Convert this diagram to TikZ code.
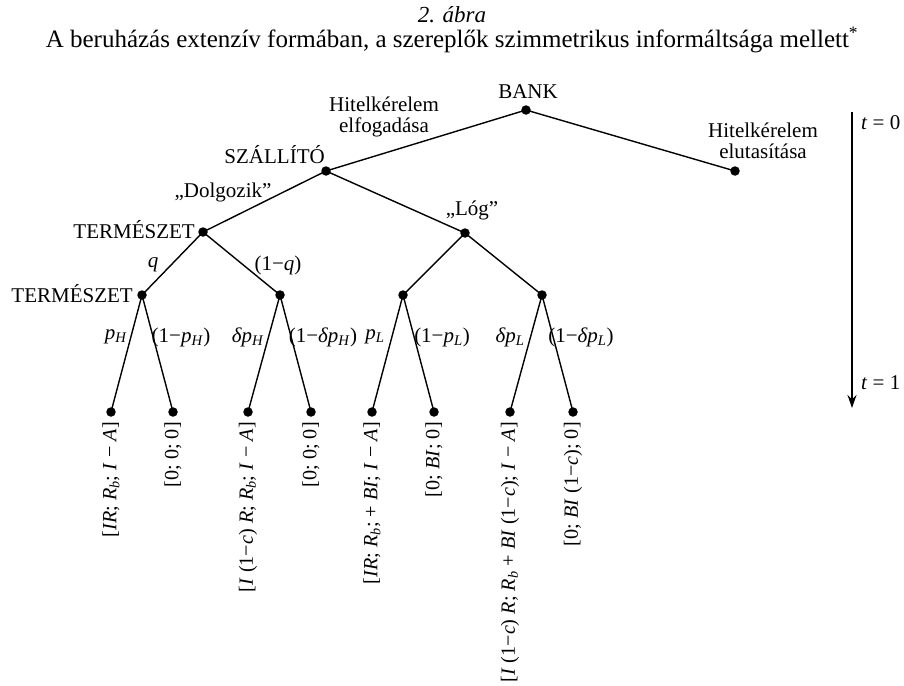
\documentclass[tikz,border=0pt]{standalone}
\usepackage{fontspec}
\setmainfont{Liberation Serif}
\usetikzlibrary{arrows.meta}
\newcommand{\iv}[1]{\textit{#1}}
\newcommand{\lsb}[1]{\textsubscript{\textit{#1}}}
\begin{document}
\begin{tikzpicture}[x=1pt,y=-1pt,
  dot/.style={circle,fill=black,inner sep=0pt,minimum size=9.5pt},
  edge/.style={line width=1.4pt},
  lbl/.style={font=\fontsize{21}{21}\selectfont, inner sep=0pt, align=center},
  leaf/.style={lbl, font=\fontsize{20.2}{21}\selectfont, rotate=90, anchor=east}]
\useasboundingbox (0,0) rectangle (904,685);
% titles
\node[lbl,font=\fontsize{23}{23}\selectfont] (title1) at (452,15) {\iv{2. ábra}};
\node[lbl,font=\fontsize{25}{25}\selectfont] (title2) at (452,40) {A beruházás extenzív formában, a szereplők szimmetrikus informáltsága mellett\textsuperscript{*}};
% tree nodes
\node[dot] (bank) at (526,110) {};
\node[dot] (rej) at (735,171) {};
\node[dot] (szal) at (326,171) {};
\node[dot] (dolg) at (203,232) {};
\node[dot] (log) at (465,233) {};
\node[dot] (n1) at (142,295) {};
\node[dot] (n2) at (280,295) {};
\node[dot] (n3) at (403,295) {};
\node[dot] (n4) at (542,295) {};
\node[dot] (l1) at (111,412) {};
\node[dot] (l2) at (173,412) {};
\node[dot] (l3) at (248,412) {};
\node[dot] (l4) at (311,412) {};
\node[dot] (l5) at (372,412) {};
\node[dot] (l6) at (434,412) {};
\node[dot] (l7) at (510,412) {};
\node[dot] (l8) at (573,412) {};
% edges
\draw[edge] (bank.center) -- (szal.center);
\draw[edge] (bank.center) -- (rej.center);
\draw[edge] (szal.center) -- (dolg.center);
\draw[edge] (szal.center) -- (log.center);
\draw[edge] (dolg.center) -- (n1.center);
\draw[edge] (dolg.center) -- (n2.center);
\draw[edge] (log.center) -- (n3.center);
\draw[edge] (log.center) -- (n4.center);
\draw[edge] (n1.center) -- (l1.center);
\draw[edge] (n1.center) -- (l2.center);
\draw[edge] (n2.center) -- (l3.center);
\draw[edge] (n2.center) -- (l4.center);
\draw[edge] (n3.center) -- (l5.center);
\draw[edge] (n3.center) -- (l6.center);
\draw[edge] (n4.center) -- (l7.center);
\draw[edge] (n4.center) -- (l8.center);
% player labels
\node[lbl] (tbank) at (528,92) {BANK};
\node[lbl,anchor=east] (tszal) at (325,155) {SZÁLLÍTÓ};
\node[lbl,anchor=east] (tterm1) at (195,230) {TERMÉSZET};
\node[lbl,anchor=east] (tterm2) at (133,294) {TERMÉSZET};
% action labels
\node[lbl] (tacc) at (384,117) {Hitelkérelem\\elfogadása};
\node[lbl] (trej) at (763,141) {Hitelkérelem\\elutasítása};
\node[lbl] (tdolg) at (223,192) {„Dolgozik”};
\node[lbl] (tlog) at (472,210) {„Lóg”};
\node[lbl] (tq) at (153,265) {\iv{q}};
\node[lbl] (t1q) at (278,265) {(1−\iv{q})};
\node[lbl] (tph) at (116,337) {\iv{p}\lsb{H}};
\node[lbl] (t1ph) at (181,337) {(1−\iv{p}\lsb{H})};
\node[lbl] (tdph) at (248,337) {\iv{δp}\lsb{H}};
\node[lbl] (t1dph) at (323,337) {(1−\iv{δp}\lsb{H})};
\node[lbl] (tpl) at (375,337) {\iv{p}\lsb{L}};
\node[lbl] (t1pl) at (442,337) {(1−\iv{p}\lsb{L})};
\node[lbl] (tdpl) at (510,337) {\iv{δp}\lsb{L}};
\node[lbl] (t1dpl) at (581,337) {(1−\iv{δp}\lsb{L})};
% payoffs
\node[leaf] (p1) at (111,422) {[\iv{IR}; \iv{R}\lsb{b}; \iv{I} − \iv{A}]};
\node[leaf] (p2) at (173,422) {[0; 0; 0]};
\node[leaf] (p3) at (248,422) {[\iv{I} (1−\iv{c}) \iv{R}; \iv{R}\lsb{b}; \iv{I} − \iv{A}]};
\node[leaf] (p4) at (311,422) {[0; 0; 0]};
\node[leaf] (p5) at (372,422) {[\iv{IR}; \iv{R}\lsb{b}; + \iv{BI}; \iv{I} − \iv{A}]};
\node[leaf] (p6) at (434,422) {[0; \iv{BI}; 0]};
\node[leaf] (p7) at (510,422) {[\iv{I} (1−\iv{c}) \iv{R}; \iv{R}\lsb{b} + \iv{BI} (1−\iv{c}); \iv{I} − \iv{A}]};
\node[leaf] (p8) at (573,422) {[0; \iv{BI} (1−\iv{c}); 0]};
% time axis
\coordinate (ta) at (852,112);
\coordinate (tb) at (852,408);
\draw[line width=2pt,-{Stealth[length=13pt,width=9pt]}] (ta) -- (tb);
\node[lbl,anchor=west] (t0) at (861,123) {\iv{t} = 0};
\node[lbl,anchor=west] (t1) at (861,383) {\iv{t} = 1};
\end{tikzpicture}
\end{document}
